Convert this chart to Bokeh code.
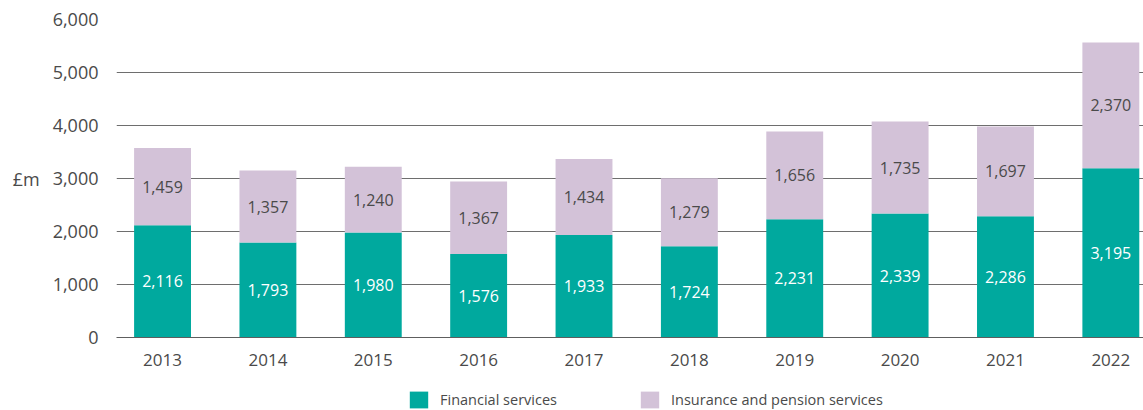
from bokeh.plotting import figure
from bokeh.layouts import column
from bokeh.models import (ColumnDataSource, Range1d, FixedTicker, NumeralTickFormatter,
                          Legend, LegendItem)
from bokeh.core.properties import value
from bokeh.embed import file_html
from bokeh.resources import INLINE

years = ["2013", "2014", "2015", "2016", "2017", "2018", "2019", "2020", "2021", "2022"]
financial = [2116, 1793, 1980, 1576, 1933, 1724, 2231, 2339, 2286, 3195]
insurance = [1459, 1357, 1240, 1367, 1434, 1279, 1656, 1735, 1697, 2370]
series_names = ["Financial services", "Insurance and pension services"]
y_ticks = [0, 1000, 2000, 3000, 4000, 5000, 6000]

TEAL = "#00A99E"
LILAC = "#D3C2D8"
TXT = "#4a4a4a"
FONT = "Open Sans"

xs = list(range(len(years)))
src = ColumnDataSource(dict(
    x=xs,
    fin=financial,
    ins=insurance,
    top=[f + i for f, i in zip(financial, insurance)],
    fin_mid=[f / 2 for f in financial],
    ins_mid=[f + i / 2 for f, i in zip(financial, insurance)],
    fin_lbl=[f"{v:,}" for v in financial],
    ins_lbl=[f"{v:,}" for v in insurance],
))

p = figure(width=1143, height=373, output_backend="svg", toolbar_location=None,
           x_range=Range1d(-0.437, 9.31), y_range=Range1d(0, 6000),
           min_border_left=116, min_border_right=0, min_border_top=19, min_border_bottom=36)
p.outline_line_color = None
p.background_fill_color = "white"
p.border_fill_color = "white"

r_fin = p.vbar(x="x", bottom=0, top="fin", width=0.54, color=TEAL, line_color=None, source=src)
r_ins = p.vbar(x="x", bottom="fin", top="top", width=0.54, color=LILAC, line_color=None, source=src)

p.text(x="x", y="fin_mid", text="fin_lbl", source=src, text_align="center",
       text_baseline="middle", text_color="white", text_font=value(FONT), text_font_size="16px")
p.text(x="x", y="ins_mid", text="ins_lbl", source=src, text_align="center",
       text_baseline="middle", text_color=TXT, text_font=value(FONT), text_font_size="16px")

# grid
p.xgrid.grid_line_color = None
p.ygrid.grid_line_color = "#6e6e6e"
p.ygrid.grid_line_width = 1
p.ygrid.ticker = FixedTicker(ticks=y_ticks)

# y axis
p.yaxis.ticker = FixedTicker(ticks=y_ticks)
p.yaxis.formatter = NumeralTickFormatter(format="0,0")
p.yaxis.axis_line_color = None
p.yaxis.major_tick_line_color = None
p.yaxis.minor_tick_line_color = None
p.yaxis.major_label_standoff = 12
p.yaxis.major_label_text_font = FONT
p.yaxis.major_label_text_font_size = "18px"
p.yaxis.major_label_text_color = TXT
p.yaxis.axis_label = "£m"
p.yaxis.axis_label_orientation = "horizontal"
p.yaxis.axis_label_standoff = 10
p.yaxis.axis_label_text_font = FONT
p.yaxis.axis_label_text_font_size = "18px"
p.yaxis.axis_label_text_font_style = "normal"
p.yaxis.axis_label_text_color = TXT

# x axis
p.xaxis.ticker = FixedTicker(ticks=xs)
p.xaxis.major_label_overrides = {i: y for i, y in zip(xs, years)}
p.xaxis.axis_line_color = "#5e5e5e"
p.xaxis.axis_line_width = 1
p.xaxis.major_tick_line_color = None
p.xaxis.minor_tick_line_color = None
p.xaxis.major_label_standoff = 10
p.xaxis.major_label_text_font = FONT
p.xaxis.major_label_text_font_size = "17px"
p.xaxis.major_label_text_color = TXT

# legend strip (separate figure so that the legend is not clipped)
p2 = figure(width=1143, height=37, output_backend="svg", toolbar_location=None,
            x_range=Range1d(0, 1), y_range=Range1d(0, 1),
            x_axis_location=None, y_axis_location=None,
            min_border_left=0, min_border_right=0, min_border_top=0, min_border_bottom=0)
p2.outline_line_color = None
p2.grid.grid_line_color = None
d_fin = p2.vbar(x=[0.5], bottom=[0], top=[0], width=0, color=TEAL, line_color=None)
d_ins = p2.vbar(x=[0.5], bottom=[0], top=[0], width=0, color=LILAC, line_color=None)

def mk_legend(label, rend, loc):
    return Legend(items=[LegendItem(label=label, renderers=[rend])], location=loc,
                  orientation="horizontal", padding=0, margin=0, spacing=0,
                  border_line_color=None, background_fill_alpha=0,
                  glyph_width=23, glyph_height=21, label_height=21, label_standoff=10,
                  label_text_font=FONT, label_text_font_size="14.5px", label_text_color=TXT)

p2.add_layout(mk_legend(series_names[0], d_fin, (291, 0)), "center")
p2.add_layout(mk_legend(series_names[1], d_ins, (522, 0)), "center")

layout = column(p, p2, spacing=0)
open("out.html", "w").write(file_html(layout, INLINE))
